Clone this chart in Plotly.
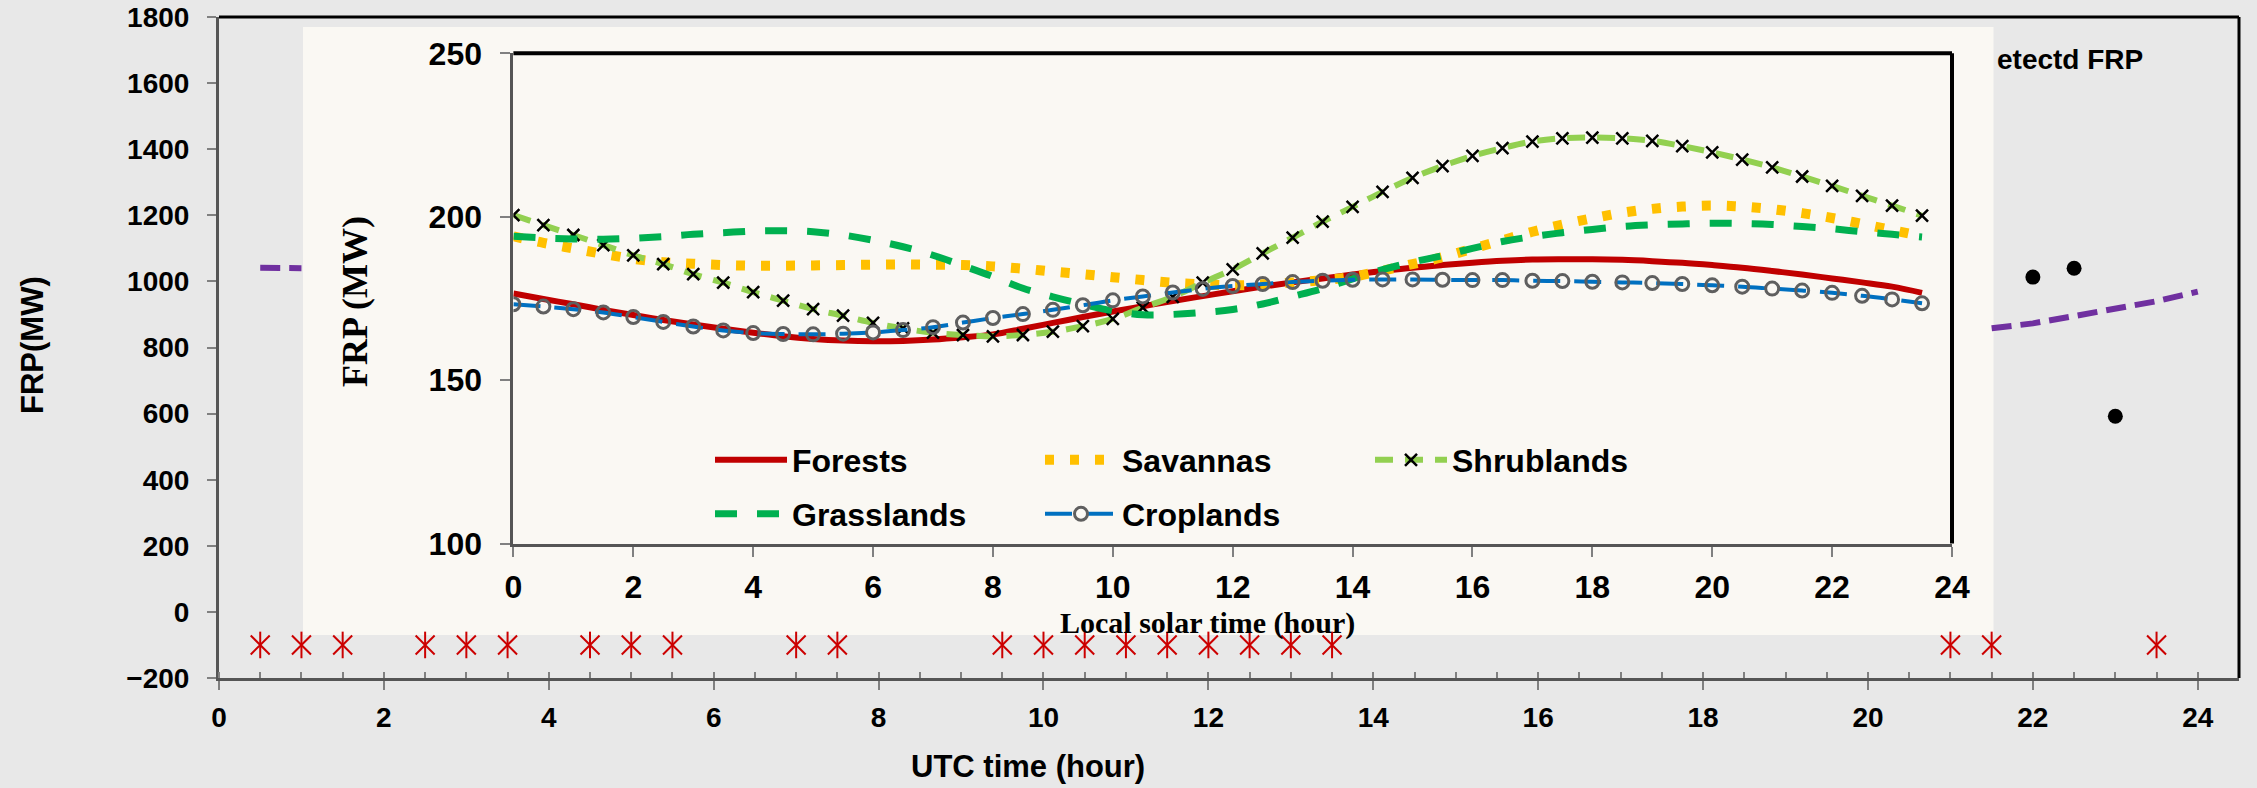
import plotly.graph_objects as go

# ---------------- data ----------------
local_hours = [0, 0.5, 1, 1.5, 2, 2.5, 3, 3.5, 4, 4.5, 5, 5.5, 6, 6.5, 7, 7.5,
               8, 8.5, 9, 9.5, 10, 10.5, 11, 11.5, 12, 12.5, 13, 13.5, 14, 14.5, 15, 15.5,
               16, 16.5, 17, 17.5, 18, 18.5, 19, 19.5, 20, 20.5, 21, 21.5, 22, 22.5, 23, 23.5]

forests = [176.5, 174.8, 173.2, 171.5, 169.9, 168.4, 167.0, 165.7, 164.5, 163.4, 162.6, 162.1,
           161.9, 162.0, 162.4, 163.1, 164.0, 165.7, 167.5, 169.3, 171.0, 172.6, 174.2, 175.7,
           177.2, 178.6, 179.9, 181.1, 182.3, 183.4, 184.4, 185.2, 185.9, 186.5, 186.9, 187.0,
           187.0, 186.8, 186.4, 185.9, 185.2, 184.4, 183.4, 182.3, 181.1, 179.9, 178.6, 176.7]

savannas = [194.0, 192.0, 190.3, 188.6, 187.1, 186.1, 185.6, 185.2, 185.0, 185.0, 185.1, 185.2,
            185.3, 185.4, 185.3, 185.2, 184.8, 184.1, 183.2, 182.4, 181.5, 180.6, 179.8, 179.3,
            179.0, 179.3, 179.9, 180.6, 181.6, 183.5, 185.5, 187.6, 190.2, 192.8, 195.4, 197.6,
            199.5, 201.2, 202.4, 203.1, 203.4, 203.1, 202.3, 201.1, 199.6, 197.8, 195.9, 194.0]

shrublands = [200.5, 197.4, 194.4, 191.3, 188.2, 185.5, 182.4, 179.8, 176.9, 174.3, 171.7, 169.7,
              167.5, 165.8, 164.5, 163.8, 163.4, 163.8, 164.8, 166.5, 168.7, 172.2, 175.5, 179.8,
              183.9, 188.8, 193.6, 198.5, 203.0, 207.6, 211.9, 215.5, 218.6, 221.0, 223.0, 224.0,
              224.2, 224.0, 223.2, 221.6, 219.7, 217.5, 215.1, 212.3, 209.4, 206.4, 203.4, 200.3]

grasslands = [194.0, 193.5, 193.2, 193.1, 193.4, 193.9, 194.6, 195.1, 195.6, 195.7, 195.4, 194.4,
              192.8, 190.8, 188.2, 185.0, 181.7, 178.1, 175.5, 173.2, 171.2, 170.0, 170.1, 170.7,
              171.6, 173.3, 175.6, 178.0, 181.0, 183.8, 186.1, 188.1, 190.3, 192.4, 193.9, 195.1,
              196.1, 197.0, 197.5, 197.8, 198.0, 197.9, 197.6, 197.0, 196.3, 195.4, 194.6, 193.8]

croplands = [173.2, 172.5, 171.7, 170.7, 169.3, 167.8, 166.4, 165.2, 164.4, 164.1, 164.0, 164.2,
             164.6, 165.3, 166.2, 167.6, 169.0, 170.2, 171.5, 172.9, 174.4, 175.6, 176.8, 177.9,
             178.8, 179.4, 180.0, 180.4, 180.7, 180.8, 180.8, 180.7, 180.6, 180.6, 180.4, 180.3,
             180.1, 179.9, 179.7, 179.4, 179.0, 178.6, 178.0, 177.4, 176.7, 175.8, 174.7, 173.5]

# outer (UTC) chart
purple_utc_early = [0.5, 1.0]
purple_frp_early = [1041, 1040]
purple_utc_late = [21.5, 22, 22.5, 23, 23.5, 24]
purple_frp_late = [858, 873, 895, 916, 940, 969]

detected_utc = [22, 22.5, 23]
detected_frp = [1013, 1040, 592]

fire_utc = [0.5, 1, 1.5, 2.5, 3, 3.5, 4.5, 5, 5.5, 7, 7.5, 9.5, 10, 10.5, 11, 11.5,
            12, 12.5, 13, 13.5, 21, 21.5, 23.5]
fire_frp = [-100, -100, -100, -100, -100, -100, -100, -100, -100, -100, -100, -100,
            -100, -100, -100, -100, -100, -100, -100, -100, -100, -100, -100]

outer_xticks = [0, 2, 4, 6, 8, 10, 12, 14, 16, 18, 20, 22, 24]
outer_yticks = [-200, 0, 200, 400, 600, 800, 1000, 1200, 1400, 1600, 1800]
inner_xticks = [0, 2, 4, 6, 8, 10, 12, 14, 16, 18, 20, 22, 24]
inner_yticks = [100, 150, 200, 250]

# ---------------- layout geometry (pixels) ----------------
W, H = 2257, 788
L, R, T, B = 219, 2239, 17, 678


def px_x(p):
    return (p - L) / (R - L)


def px_y(p):
    return (B - p) / (B - T)


GRAY_BG = "#E8E8E8"
CREAM = "#FAF8F3"
AXIS_GRAY = "#555555"
TICK_GRAY = "#808080"
SANS = "Liberation Sans"
SERIF = "Liberation Serif"

fig = go.Figure()

# ---- outer traces ----
for xs, ys in [(purple_utc_early, purple_frp_early), (purple_utc_late, purple_frp_late)]:
    fig.add_trace(go.Scatter(x=xs, y=ys, mode="lines", showlegend=False,
                             line=dict(color="#7030A0", width=6, dash="20px,9px"),
                             xaxis="x", yaxis="y", hoverinfo="skip"))

fig.add_trace(go.Scatter(x=detected_utc, y=detected_frp, mode="markers", showlegend=False,
                         marker=dict(color="black", size=15, symbol="circle"),
                         xaxis="x", yaxis="y"))

fig.add_trace(go.Scatter(x=fire_utc, y=fire_frp, mode="markers", showlegend=False,
                         marker=dict(symbol="x-thin-open", size=19, color="#CC0000",
                                     line=dict(color="#CC0000", width=2)),
                         xaxis="x", yaxis="y"))
fig.add_trace(go.Scatter(x=fire_utc, y=fire_frp, mode="markers", showlegend=False,
                         marker=dict(symbol="line-ns-open", size=19, color="#CC0000",
                                     line=dict(color="#CC0000", width=2)),
                         xaxis="x", yaxis="y"))

# ---- inset traces ----
fig.add_trace(go.Scatter(x=local_hours, y=forests, name="Forests", mode="lines",
                         line=dict(color="#C00000", width=6, shape="spline"),
                         xaxis="x2", yaxis="y2", legend="legend"))
fig.add_trace(go.Scatter(x=local_hours, y=savannas, name="Savannas", mode="lines",
                         line=dict(color="#FFC000", width=10, dash="9px,16px", shape="spline"),
                         xaxis="x2", yaxis="y2", legend="legend"))
fig.add_trace(go.Scatter(x=local_hours, y=shrublands, name="Shrublands", mode="lines+markers",
                         line=dict(color="#92D050", width=6, dash="18px,12px", shape="spline"),
                         marker=dict(symbol="x-thin-open", size=12, color="black",
                                     line=dict(color="black", width=2.5)),
                         xaxis="x2", yaxis="y2", legend="legend"))
fig.add_trace(go.Scatter(x=local_hours, y=grasslands, name="Grasslands", mode="lines",
                         line=dict(color="#00B050", width=7, dash="22px,20px", shape="spline"),
                         xaxis="x2", yaxis="y2", legend="legend2"))
fig.add_trace(go.Scatter(x=local_hours, y=croplands, name="Croplands", mode="lines+markers",
                         line=dict(color="#0070C0", width=4, dash="27px,14px", shape="spline"),
                         marker=dict(symbol="circle-open", size=13, color="#5F5F5F",
                                     line=dict(color="#5F5F5F", width=3)),
                         xaxis="x2", yaxis="y2", legend="legend2"))

tick_font_outer = dict(family=SANS, size=28, color="black", weight=700)
tick_font_inner = dict(family=SANS, size=32, color="black", weight=700)
legend_font = dict(family=SANS, size=32, color="black", weight=700)

legend_common = dict(orientation="h", xanchor="left", yanchor="middle",
                     entrywidth=243, entrywidthmode="pixels", itemwidth=72,
                     font=legend_font, bgcolor="rgba(0,0,0,0)", borderwidth=0,
                     tracegroupgap=0)

fig.update_layout(
    width=W, height=H,
    margin=dict(l=L, r=W - R, t=T, b=H - B, pad=0, autoexpand=False),
    paper_bgcolor=GRAY_BG,
    plot_bgcolor="rgba(0,0,0,0)",
    xaxis=dict(domain=[0, 1], range=[0, 24.5], anchor="y", automargin=False,
               tickvals=outer_xticks, ticks="outside", ticklen=9, tickwidth=2,
               tickcolor=TICK_GRAY, showline=True, linecolor=AXIS_GRAY, linewidth=3,
               showgrid=False, zeroline=False, tickfont=tick_font_outer,
               ticklabelstandoff=3,
               minor=dict(dtick=0.5, tick0=0, ticks="inside", ticklen=6, tickwidth=2,
                          tickcolor=TICK_GRAY, showgrid=False)),
    yaxis=dict(domain=[0, 1], range=[-200, 1800], anchor="x", automargin=False,
               tickvals=outer_yticks, ticks="outside", ticklen=9, tickwidth=2,
               tickcolor=TICK_GRAY, showline=True, linecolor=AXIS_GRAY, linewidth=3,
               showgrid=False, zeroline=False, tickfont=tick_font_outer,
               ticklabelstandoff=12),
    xaxis2=dict(domain=[px_x(513.4), px_x(1952)], range=[0, 24], anchor="y2", automargin=False,
                tickvals=inner_xticks, ticks="outside", ticklen=10, tickwidth=2,
                tickcolor=TICK_GRAY, showline=True, linecolor=AXIS_GRAY, linewidth=3,
                showgrid=False, zeroline=False, tickfont=tick_font_inner,
                ticklabelstandoff=3),
    yaxis2=dict(domain=[px_y(543.5), px_y(53.3)], range=[100, 250], anchor="x2", automargin=False,
                tickvals=inner_yticks, ticks="outside", ticklen=10, tickwidth=2,
                tickcolor=TICK_GRAY, showline=True, linecolor=AXIS_GRAY, linewidth=3,
                showgrid=False, zeroline=False, tickfont=tick_font_inner,
                ticklabelstandoff=12),
    legend=dict(x=px_x(710), y=px_y(460), **legend_common),
    legend2=dict(x=px_x(710), y=px_y(514), **legend_common),
    showlegend=True,
)

# cream inset panel
fig.add_shape(type="rect", xref="paper", yref="paper",
              x0=px_x(303), x1=px_x(1993.5), y0=px_y(635), y1=px_y(27),
              fillcolor=CREAM, line=dict(width=0), layer="below")

# black top/right frame lines (outer and inset)
for (x0, y0, x1, y1) in [(0, 1, 1, 1), (1, 0, 1, 1)]:
    fig.add_shape(type="line", xref="paper", yref="paper", x0=x0, y0=y0, x1=x1, y1=y1,
                  line=dict(color="black", width=3), layer="above")
ix0, ix1 = px_x(513.4), px_x(1952)
iy0, iy1 = px_y(543.5), px_y(53.3)
fig.add_shape(type="line", xref="paper", yref="paper", x0=ix0, y0=iy1, x1=ix1, y1=iy1,
              line=dict(color="black", width=4), layer="above")
fig.add_shape(type="line", xref="paper", yref="paper", x0=ix1, y0=iy0, x1=ix1, y1=iy1,
              line=dict(color="black", width=4), layer="above")

# titles
fig.add_annotation(text="FRP(MW)", xref="paper", yref="paper", x=px_x(32), y=px_y(345),
                   textangle=-90, showarrow=False, xanchor="center", yanchor="middle",
                   font=dict(family=SANS, size=31, color="black", weight=700))
fig.add_annotation(text="UTC time (hour)", xref="paper", yref="paper", x=px_x(1028), y=px_y(766),
                   showarrow=False, xanchor="center", yanchor="middle",
                   font=dict(family=SANS, size=31, color="black", weight=700))
fig.add_annotation(text="FRP (MW)", xref="paper", yref="paper", x=px_x(355), y=px_y(302),
                   textangle=-90, showarrow=False, xanchor="center", yanchor="middle",
                   font=dict(family=SERIF, size=36, color="black", weight=700))
fig.add_annotation(text="Local solar time (hour)", xref="paper", yref="paper",
                   x=px_x(1207), y=px_y(623), showarrow=False, xanchor="center", yanchor="middle",
                   font=dict(family=SERIF, size=30, color="black", weight=700))
fig.add_annotation(text="etectd FRP", xref="paper", yref="paper", x=px_x(1995), y=px_y(60),
                   showarrow=False, xanchor="left", yanchor="middle",
                   font=dict(family=SANS, size=28, color="black", weight=700))

fig.write_html("out.html")
